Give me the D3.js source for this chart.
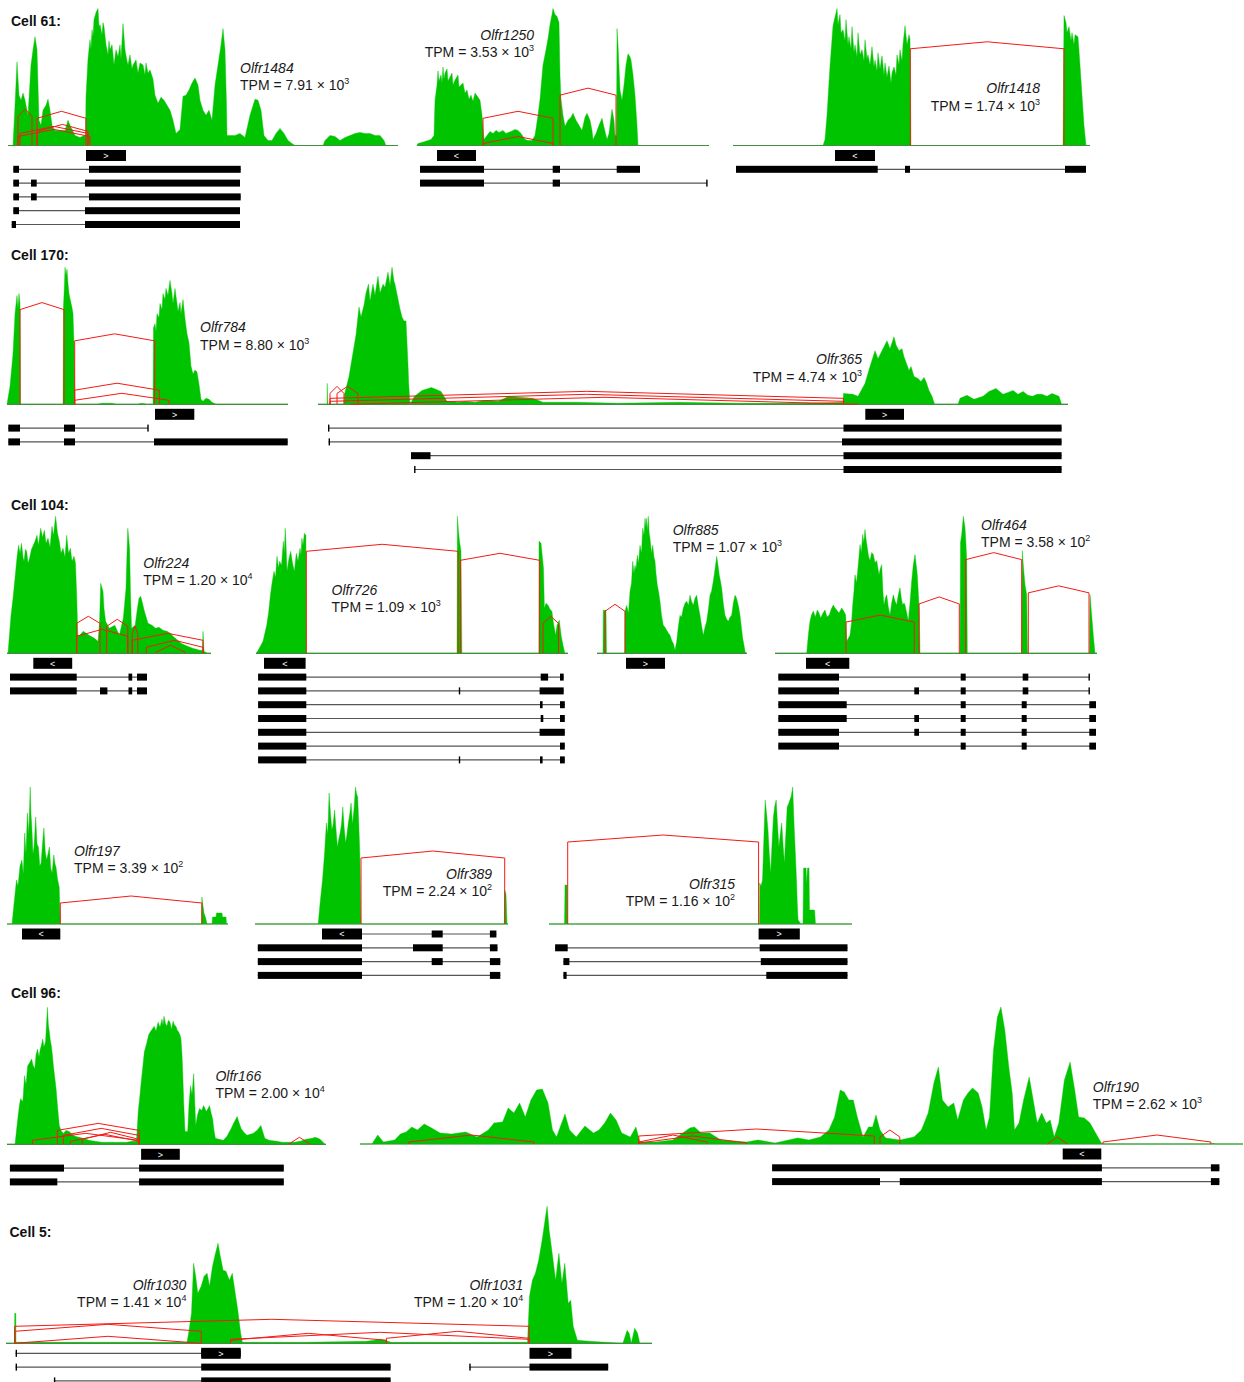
<!DOCTYPE html>
<html><head><meta charset="utf-8">
<script src="https://cdn.jsdelivr.net/npm/d3@7"></script>
<style>
html,body{margin:0;padding:0;background:#fff;}
svg{display:block;font-family:"Liberation Sans",Arial,Helvetica,sans-serif;}
</style></head><body>
<svg id="chart" width="1244" height="1382"></svg>
<script>
// ---------------- data ----------------
// Read coverage per locus: [position, depth] pairs (position = offset along the locus)
const cov_1484 = [[0,0],[5,0],[7,40],[9,83],[11,50],[13,45],[15,52],[17,45],[20,30],[23,80],[25,95],[27,108],[29,95],[31,25],[33,20],[35,35],[38,40],[40,46],[42,35],[44,20],[47,15],[52,15],[57,15],[60,25],[62,20],[67,10],[72,8],[76,10],[77.5,10],[78,49],[80,86],[82,105],[83,96],[84,115],[85,108],[86,125],[88,132],[90,136],[91,118],[92,120],[94,110],[95,122],[96,118],[98,100],[100,90],[101,104],[102,95],[104,100],[106,80],[108,95],[110,88],[112,100],[113,86],[115,121],[117,95],[119,84],[120,80],[122,90],[124,76],[125,80],[128,85],[130,72],[132,82],[135,80],[137,70],[138,82],[140,72],[142,75],[145,66],[147,50],[150,42],[153,48],[156,45],[159,40],[162,35],[165,25],[168,12],[172,16],[175,49],[178,50],[181,55],[184,62],[187,67],[190,60],[192,45],[195,35],[198,30],[201,35],[204,25],[207,60],[210,80],[213,100],[215,116],[217,95],[218.5,40],[219,10],[222,10],[227,10],[232,12],[237,8],[242,30],[247,46],[250,45],[253,35],[256,10],[260,5],[264,5],[268,12],[272,17],[276,12],[280,5],[284,2],[287,0],[315,0],[317,5],[322,10],[327,9],[332,5],[337,8],[342,10],[347,12],[352,13],[357,12],[362,12],[367,10],[372,10],[376,5],[378,0],[390,0]];
const cov_1250 = [[0,0],[1,2],[8,4],[14,6],[17,10],[18,45],[20,60],[21,74],[22,64],[24,70],[25,62],[26,78],[27,66],[28,72],[30,76],[31,64],[33,68],[35,72],[36,60],[38,65],[41,70],[42,58],[44,60],[46,62],[48,52],[50,55],[52,46],[54,50],[56,44],[58,52],[61,48],[63,45],[65,30],[67,6],[70,10],[73,14],[76,12],[79,15],[82,13],[86,15],[89,12],[94,14],[98,16],[101,15],[104,12],[108,6],[111,5],[115,5],[118,10],[121,30],[123,46],[126,80],[129,95],[131,106],[133,120],[135,130],[136,136],[138,130],[140,128],[142,122],[143,70],[144,46],[146,30],[148,19],[151,25],[154,28],[156,32],[159,25],[162,20],[165,15],[168,28],[170,32],[173,25],[175,15],[176,6],[179,12],[182,20],[185,27],[187,18],[190,6],[192,12],[195,36],[197,25],[198,10],[199.5,10],[200,116],[201,100],[203,55],[205,45],[207,60],[209,80],[211,91],[213,88],[214,85],[216,70],[218,50],[220,20],[221,0],[292,0]];
const cov_1418 = [[0,0],[90,0],[92,6],[94,30],[97,79],[100,119],[104,136],[105,120],[107,130],[108,112],[110,115],[112,104],[113,125],[115,100],[116,108],[118,96],[119,118],[121,92],[122,100],[124,88],[125,112],[127,90],[129,95],[131,84],[132,105],[134,86],[135,90],[137,80],[139,98],[141,78],[142,85],[144,74],[145,92],[147,76],[149,89],[151,70],[152,82],[154,68],[156,79],[158,62],[159,72],[161,78],[163,70],[164,90],[166,80],[167,95],[169,84],[170,100],[172,119],[174,100],[176,110],[177,106],[178,0],[330,0],[331,129],[333,122],[334,112],[336,118],[338,104],[339,112],[341,100],[342,110],[345,108],[347,80],[349,50],[351,20],[353,0],[357,0]];
const cov_784 = [[0,0],[3,18],[6,50],[8,90],[10,108],[11,95],[12,110],[13,100],[13.5,0],[56,0],[56.5,98],[57.5,120],[58,136],[59,128],[60,134],[61,120],[62,110],[63,105],[65,96],[66,90],[67,60],[68,0],[90,0],[95,1],[105,1],[110,0],[130,0],[135,1],[140,0],[146,0],[146.5,76],[148,80],[149,72],[150,90],[152,86],[153,100],[155,94],[156,110],[158,104],[159,115],[161,108],[163,123],[165,110],[166,100],[168,115],[170,100],[171,92],[173,101],[174,90],[176,104],[178,85],[180,70],[182,61],[184,38],[186,30],[188,34],[190,32],[192,20],[194,5],[196,3],[199,6],[202,5],[205,2],[209,0],[281,0]];
const cov_365 = [[0,0],[9,0],[9.2,21],[9.8,0],[26,0],[26.5,10],[31,28],[36,58],[38,70],[41,98],[43,88],[46,100],[48,112],[50.5,121],[52,104],[55,121],[57,110],[60,129],[62,112],[65,121],[67,118],[70,133],[72,120],[74,138],[76,124],[77,121],[79.6,108],[82,96],[84,88],[86,84],[88,84],[90,40],[90.7,21],[92,0],[96.5,8],[104,14],[113.5,17],[123,13],[129,3],[140,2],[147,3],[157,2],[167,4],[180,3],[191,8],[201,7],[215,6],[225,2],[260,2],[300,1],[360,2],[420,1],[480,1],[525,2],[525.5,11],[535,10],[540,8],[547,21],[552,38],[557,54],[560,46],[564,54],[566,58],[569,64],[572,56],[576,68],[578,60],[581,54],[584,56],[586,48],[591,34],[593,38],[596,28],[600,26],[603,23],[606,27],[608,23],[611,14],[614,8],[616.6,0],[640,0],[642,6],[649,9],[656,5],[665,8],[671,13],[678,16],[685,10],[690,12],[695,14],[700,10],[705,13],[710,9],[714.5,8],[719,10],[724,10],[729,8],[734,11],[741,8],[743.6,0],[750,0]];
const cov_224 = [[0,0],[1,0],[4,38],[6,55],[8,75],[10,96],[11.5,108],[13,100],[14.5,110],[16,96],[17,92],[18.5,104],[19.7,102],[21,90],[22.6,95],[24.5,104],[26.3,108],[28,112],[30,118],[31.5,108],[33.7,125],[35.5,116],[37.4,123],[39,110],[41,115],[43,106],[45,127],[46.5,118],[48.6,137],[50.5,120],[52.3,112],[54,100],[56,105],[58,96],[59.7,118],[61.5,100],[63.4,105],[65,92],[67,97],[68.5,90],[69.7,58],[70.8,18],[72.6,18],[76.3,22],[82,18],[87.4,15],[91,12],[92.5,30],[93.7,70],[96,62],[97,45],[98.6,32],[102.3,25],[107.8,28],[112.3,18],[116.3,35],[119,65],[120,100],[120.8,125],[122.6,105],[123.5,60],[124.5,25],[128.2,28],[130,42],[132,55],[133.7,57],[135.5,50],[137.4,42],[141,30],[145,28],[148.6,25],[152,26],[156,23],[160,22],[163.4,20],[167,16],[170.8,13],[174,10],[178.2,8],[185.6,5],[193,3],[195.5,3],[196,22],[197,2],[200.4,0],[204,0]];
const cov_726 = [[0,0],[0.3,0],[3.3,5],[7,12],[10.7,28],[12.5,40],[14.4,58],[16,70],[18,82],[19.5,76],[21,97],[22.5,85],[23.6,92],[25.5,88],[27.3,112],[28.3,100],[29.2,125],[30,110],[31,82],[33,95],[34.7,102],[36.5,90],[38.4,82],[40.3,100],[42,92],[44,105],[45,98],[45.9,115],[47,108],[48.4,120],[49.9,118],[50.3,0],[201,0],[201.4,137],[202.5,122],[203.5,112],[205,102],[205.9,0],[282.8,0],[283,112],[285,110],[286.5,95],[287.5,85],[288.4,45],[290,50],[292.1,48],[294,44],[295.9,42],[297.5,30],[299.6,18],[301,28],[303.3,33],[305.1,18],[307,8],[308.8,0],[312,0]];
const cov_885 = [[0,0],[6,0],[6.3,43],[9,43],[9.5,0],[27.8,0],[28,42],[29.7,48],[31.5,40],[33,62],[34.5,70],[35.7,92],[37,80],[38,88],[39,84],[40.3,98],[41.5,90],[43,108],[44.5,100],[45.7,125],[47,118],[48,135],[49,126],[49.7,135],[50.5,122],[51.3,137],[52.2,120],[53,115],[54.5,100],[55.7,108],[57,96],[58,92],[59,80],[60.3,68],[61.5,62],[63,52],[64.5,38],[66.3,28],[68,26],[69.7,23],[71.5,20],[73,18],[75,12],[76.3,10],[78,3],[79.7,12],[81.5,28],[83,38],[84.5,36],[86.3,45],[88,50],[89.7,52],[91.5,48],[93,58],[94.5,52],[96.3,48],[98,55],[99.7,58],[101.5,46],[103,38],[104.5,28],[106.3,18],[108,26],[109.7,32],[111.5,45],[113,58],[114.5,62],[116.3,72],[118,84],[119.7,97],[121,88],[122.3,78],[123.5,72],[124.7,65],[126.3,50],[128,38],[129.7,34],[131.3,32],[133,36],[134.7,38],[136.3,50],[138,58],[139.2,56],[140.3,52],[141.7,46],[143,38],[144.5,25],[145.7,15],[147,8],[148,2],[149,0],[150,0]];
const cov_464 = [[0,0],[31.7,0],[33.3,18],[35,32],[36.5,38],[38.3,42],[40.3,36],[42.3,43],[44,40],[45.7,35],[48,40],[50,43],[52,36],[54.3,38],[56.3,44],[58.3,48],[60,45],[61.7,43],[64,40],[66.7,45],[68.7,42],[70.7,38],[71.7,12],[75,18],[76.5,30],[77.7,48],[79,62],[80,78],[81.5,70],[82.7,82],[84,96],[85,108],[86.3,100],[87.7,118],[88.8,110],[90,123],[91.2,112],[92.3,105],[93.6,96],[95,92],[96.7,100],[98.3,98],[100,90],[101.7,92],[103,84],[104,78],[105.3,84],[106.7,88],[108,60],[109,48],[110.4,55],[111.7,58],[113.3,46],[115,38],[116.7,50],[118.3,58],[120,52],[121.7,48],[123.3,58],[125,65],[126.3,55],[127.7,48],[129,50],[130,48],[131.7,40],[133.3,32],[135,50],[136.7,72],[138.3,88],[140,98],[141.2,88],[142.3,78],[143.3,60],[144.3,42],[145,0],[185,0],[185.5,110],[186.7,118],[188.3,136],[189.2,130],[190,125],[191,108],[191.7,92],[192.3,0],[246.5,0],[247.3,102],[248.5,85],[250,68],[251.7,58],[252.5,0],[314.5,0],[315,58],[316.5,40],[318.3,18],[320,0],[322,0]];
const cov_197 = [[0,0],[5,0],[7,20],[9.5,44],[11,38],[13,58],[14.9,64],[16.3,50],[17.7,91],[19,70],[20.4,111],[21.8,90],[23.2,137],[24,110],[24.8,97],[26,70],[27,77],[27.8,90],[28.7,107],[30,80],[31.4,77],[32.8,58],[34.1,61],[35.5,80],[36.9,96],[38.3,72],[39.6,64],[41,70],[42.4,77],[43.7,56],[45.1,51],[46.8,69],[48,60],[49,57],[50.5,45],[52.2,37],[53.3,0],[194.5,0],[194.9,27],[196,18],[197,11],[198.7,6],[200,0],[205,0],[205.5,7],[209,7],[209.5,11],[215,11],[215.5,7],[219,7],[219.5,0],[221,0]];
const cov_389 = [[0,0],[63.2,0],[65,20],[67.5,44],[69.5,70],[71.4,101],[72.8,90],[74.1,131],[75.5,110],[76.9,94],[78.2,100],[79.6,114],[81,95],[82.4,77],[83.8,85],[85.1,91],[86.5,100],[87.8,117],[89.2,96],[90.6,81],[92,90],[93.3,101],[94.7,110],[96.1,121],[97.5,100],[99,115],[100.5,137],[101.6,130],[102.7,127],[103.8,100],[104.8,71],[106,0],[249.3,0],[249.7,34],[251,30],[252,0],[253,0]];
const cov_315 = [[0,0],[15.5,0],[16,39],[18,39],[18.5,0],[210.5,0],[210.7,41],[212,38],[213.5,44],[215,90],[216.2,124],[217.6,110],[219,94],[220.3,70],[221.7,51],[223,80],[224.4,107],[225.8,118],[227.2,124],[228.5,100],[229.9,77],[231.3,90],[232.7,101],[234,80],[235.4,61],[236.8,90],[238.2,117],[239.5,120],[240.9,124],[242.3,128],[243.7,137],[244.5,115],[245.3,94],[246.4,70],[247.5,44],[248.3,20],[249.1,4],[252,0],[254,0],[254.6,56],[257,56],[257.5,40],[258.5,56],[260,56],[260.5,14],[265.6,14],[266.5,0],[303,0]];
const cov_166 = [[0,0],[8,0],[10.8,26],[12.5,40],[13.6,46],[15.9,43],[17.5,69],[19,60],[20.7,79],[22.5,82],[24.6,86],[26,80],[27.8,76],[29,90],[30.5,96],[32,88],[33.3,96],[34.5,100],[35.7,106],[37,98],[38.5,103],[39.5,120],[40.4,138],[41.4,120],[42.4,113],[43.4,104],[44.4,99],[45.4,90],[46.4,79],[47.7,68],[49.1,56],[50.7,36],[52.3,19],[54,14],[56.2,11],[59,14],[62.2,13],[65,10],[68.1,8],[72,7],[76,6],[82,4],[87.9,3],[95,2],[103.7,2],[111,2],[119.5,2],[125,3],[129.4,3],[130.5,20],[131.3,34],[133,50],[134.5,66],[136,80],[137.3,93],[138.7,98],[140,103],[141.6,110],[143.2,113],[145.2,116],[147.2,119],[149,114],[151.1,123],[153,118],[155,126],[156,120],[157,129],[158.4,122],[159.8,119],[161.4,125],[163,123],[164.5,116],[166.1,124],[167.5,120],[168.9,119],[170.3,115],[171.7,113],[173,110],[174,106],[175,90],[175.6,76],[176.8,40],[178,13],[180.7,13],[182,40],[183.5,59],[185,50],[186.7,71],[187.7,45],[188.7,19],[190.6,30],[192.6,36],[194.6,34],[196.6,39],[198,36],[199.3,33],[201,36],[202.5,39],[204,32],[205.6,26],[207,14],[208.4,6],[212,5],[216.3,4],[220,8],[222,12],[224.2,16],[227,22],[230.2,28],[232,22],[234.1,16],[237,12],[240,9],[243,10],[246,11],[250,14],[253.9,19],[256,12],[257.8,6],[262,4],[269.7,3],[275,2],[281.5,2],[287,2],[293.4,3],[299,5],[305.3,6],[308,7],[311.2,6],[313,5],[315.1,3],[317.9,0],[319,0]];
const cov_190 = [[0,0],[12,0],[17.7,9],[23.4,2],[34.7,4],[40.4,10],[46.1,12],[51.8,17],[57.4,14],[64.2,20],[71.6,16],[80.1,11],[91.5,10],[105.7,12],[117,7],[128.4,14],[134,21],[142.6,22],[148.2,36],[153.9,31],[159.6,41],[165.3,27],[170.9,44],[176.6,54],[182.3,55],[188,41],[192.5,14],[196.5,7],[205,30],[209.5,14],[216.3,7],[224.9,18],[233.4,11],[239,14],[244.7,21],[250.4,31],[256.1,24],[261.7,11],[270.3,7],[275.9,17],[279.9,2],[295.8,2],[312.8,4],[329.8,16],[334.4,17],[341.2,11],[349.7,11],[361,4],[386.6,2],[398,4],[415,1],[437.7,6],[449,4],[460.4,7],[468.9,14],[474.6,27],[480.2,54],[484.2,52],[488.8,44],[493.3,44],[497.3,27],[503,7],[508.6,17],[512.6,17],[516,29],[520,14],[525.6,6],[539.8,4],[554,7],[561.4,14],[568.2,31],[573.9,61],[578.4,77],[582.4,44],[588.1,37],[593.8,41],[597.7,24],[603.4,44],[608,51],[612.5,56],[618.2,51],[622.1,37],[626.1,14],[629.5,27],[633.5,94],[637.4,127],[640.9,137],[644.8,114],[648.8,77],[652.2,51],[654.5,14],[659,21],[663.6,44],[669.2,67],[673.2,44],[677.2,21],[681.7,31],[686.3,21],[690.2,24],[694.2,7],[698.8,21],[704.4,64],[710.1,82],[714.7,54],[718.6,27],[724.3,26],[730,21],[735.6,11],[741.3,1],[743,0],[852,0],[853,1],[855,0],[883,0]];
const cov_cell5 = [[0,0],[8.5,0],[8.7,30],[9.8,30],[10,1],[50,1],[100,1],[150,1],[181,1],[182.6,10],[185.5,30],[187.6,80],[189.7,67],[191.8,50],[195.2,57],[198.1,67],[201.1,70],[203.6,57],[206.5,77],[209.5,90],[212,100],[214.1,88],[217.1,73],[220,72],[223.4,63],[226.3,70],[228.8,53],[231.8,33],[234.7,10],[236.4,1],[300,1],[360,2],[368.6,3],[374,4],[379.1,3],[385,1],[450,1],[521.5,1],[522.2,17],[523.5,47],[526.4,63],[529.4,70],[532.7,83],[536.1,103],[539,123],[541.1,137],[543.2,113],[546.2,90],[549.6,63],[552.9,90],[555.9,60],[558.8,80],[562.2,40],[564.7,43],[567.2,17],[571.4,3],[583.2,2],[600,1],[616.9,0],[621.1,13],[623.2,10],[625.3,0],[628.7,15],[631.6,10],[633.7,0],[646,0]];

// Splice junctions: [donor, acceptor, junction depth]
const jn_1484 = [[10,24,29],[29,78,27],[10,82,9],[12,80,12],[29,80,14]];
const jn_1250 = [[66,136,27],[66,136,2],[143,199,50]];
const jn_1418 = [[177.3,331,96]];
const jn_784 = [[13,57,94],[67.7,147.7,63],[67.7,152.3,14],[67.7,162,4]];
const jn_365 = [[12,26,11],[19,40,11],[12,525.5,3],[12,525.5,6],[32,540,0]];
const jn_224 = [[69.7,93,30],[69.7,120.8,17],[99.7,120.8,27],[125.2,130.8,20],[125.2,196,13],[139.3,196,6],[148.6,178.2,1]];
const jn_726 = [[50.3,202.1,102],[204.4,283.6,93],[287,302.5,30]];
const jn_885 = [[8,28,42]];
const jn_464 = [[71,139.3,31],[144,184.3,49],[190.7,246.7,93],[253.3,314,60]];
const jn_197 = [[53.3,194.9,21]];
const jn_389 = [[106,249.7,66]];
const jn_315 = [[18.7,209.6,82]];
const jn_166 = [[50.3,132.1,14],[25.4,132.1,4],[56.2,132.1,9],[63.4,132.1,3],[75.2,132.1,5],[281.5,303.3,0]];
const jn_190 = [[48.9,173.8,2],[278.8,514.3,8],[278.8,386.6,1],[278.8,346.9,2],[520,539.8,7],[687.4,707.3,0],[743,850.9,2]];
const jn_cell5 = [[8.7,523,17],[8.7,195.2,12],[8.7,195.2,0],[224.6,523,4],[224.6,380.4,3],[380.4,523,5]];

// Annotated transcripts: [row, [[exonStart, exonEnd], ...]]
const tx_1484 = [[1,[[5.3,11],[81,232.7]]],[2,[[5.3,11],[23,28.7],[77,232]]],[3,[[5.3,11],[23,28.7],[81,232.7]]],[4,[[5.3,11],[77,232]]],[5,[[3.7,8],[77,232]]]];
const tx_1250 = [[1,[[3,67],[135.7,143],[199.7,223]]],[2,[[3,67],[135.7,143],[289.2,289.8]]]];
const tx_1418 = [[1,[[3,144.7],[172,177],[332,353]]]];
const tx_784 = [[1,[[1.3,13],[57,68],[140.3,141]]],[2,[[1.3,13],[57,68],[147,280.7]]]];
const tx_365 = [[1,[[10,10.8],[525.5,743.6]]],[2,[[10.6,11.4],[524,743.6]]],[3,[[93,112.5],[525.5,743.6]]],[4,[[96.1,96.9],[525.5,743.6]]]];
const tx_224 = [[1,[[3,69.7],[121.5,125.2],[130,140]]],[2,[[3,69.7],[93,100.4],[121.5,125.2],[130,140]]]];
const tx_726 = [[1,[[2.1,50.3],[284.7,292.1],[304,307.7]]],[2,[[2.1,50.3],[202.8,203.8],[283.6,307.7]]],[3,[[2.1,50.3],[284,286.6],[304,308.8]]],[4,[[2.1,50.3],[284.7,287.3],[304,308.8]]],[5,[[2.1,50.3],[283.6,308.8]]],[6,[[2.1,50.3],[304,308.8]]],[7,[[2.1,50.3],[202.8,203.8],[284,286.6],[304,308.8]]]];
const tx_885 = [];
const tx_464 = [[1,[[3.3,64],[185.7,190.7],[247.7,253.3],[313.5,314.5]]],[2,[[3.3,64],[139.3,144],[185.7,190.7],[247.7,253.3],[313.5,314.5]]],[3,[[3.3,71.7],[185.7,190.7],[246.7,251.7],[314.3,321]]],[4,[[3.3,71.7],[139.3,144],[185.7,190.7],[246.7,251.7],[314.3,321]]],[5,[[3.3,64],[139.3,144],[185.7,190.7],[246.7,251.7],[314.3,321]]],[6,[[3.3,64],[185.7,190.7],[246.7,251.7],[314.3,321]]]];
const tx_197 = [];
const tx_389 = [[0,[[68.6,107],[176.7,187.7],[234.9,241.4]]],[1,[[2.8,107],[158,187.7],[234.9,242.5]]],[2,[[2.8,107],[176.7,187.7],[234.9,245.3]]],[3,[[2.8,107],[234.9,245.3]]]];
const tx_315 = [[1,[[6.1,18.7],[210.7,298.5]]],[2,[[14.4,20.4],[211.8,298.5]]],[3,[[14.4,17.6],[217.3,298.5]]]];
const tx_166 = [[1,[[2.9,57],[132.1,276.8]]],[2,[[2.9,50.3],[132.1,276.8]]]];
const tx_190 = [[1,[[412.1,741.9],[850.9,859.4]]],[2,[[412.1,520],[539.8,741.9],[850.9,859.4]]]];
const tx_1030 = [[0,[[9.6,10.4],[195.2,234.7]]],[1,[[9.6,10.4],[195.2,384.6]]],[2,[[47.9,48.7],[195.2,384.6]]]];
const tx_1031 = [[1,[[463.3,464.1],[523.5,602.2]]]];

// Genes
const geneNames   = ["Olfr1484","Olfr1250","Olfr1418","Olfr784","Olfr365","Olfr224","Olfr726","Olfr885","Olfr464","Olfr197","Olfr389","Olfr315","Olfr166","Olfr190","Olfr1030","Olfr1031"];
const tpmMantissa = ["7.91","3.53","1.74","8.80","4.74","1.20","1.09","1.07","3.58","3.39","2.24","1.16","2.00","2.62","1.41","1.20"];
const tpmExponent = [3,3,3,3,3,4,3,3,2,2,2,2,4,3,4,4];
const geneStrand  = ["+","-","-","+","+","-","-","+","-","-","-","+","+","-","+","+"];
const strandSpan  = [[78,118],[20,59],[102,142],[148,187.3],[547.3,586],[26.3,65.2],[8,49.6],[29,68],[31,74.3],[15,53.3],[67,107],[209.6,250.8],[134.1,172.8],[702.7,741.3],[195.2,234.7],[523.5,565.5]];
const geneTranscripts = [tx_1484,tx_1250,tx_1418,tx_784,tx_365,tx_224,tx_726,tx_885,tx_464,tx_197,tx_389,tx_315,tx_166,tx_190,tx_1030,tx_1031];
const geneTrack = [0,1,2,3,4,5,6,7,8,9,10,11,12,13,14,14];

// Tracks (one coverage lane each)
const trackCoverage  = [cov_1484,cov_1250,cov_1418,cov_784,cov_365,cov_224,cov_726,cov_885,cov_464,cov_197,cov_389,cov_315,cov_166,cov_190,cov_cell5];
const trackJunctions = [jn_1484,jn_1250,jn_1418,jn_784,jn_365,jn_224,jn_726,jn_885,jn_464,jn_197,jn_389,jn_315,jn_166,jn_190,jn_cell5];

const cellLabels = ["Cell 61:","Cell 170:","Cell 104:","Cell 96:","Cell 5:"];

// ---------------- layout ----------------
// track frame: [left, right, baseline]
const trackFrame = [[8,398,145.5],[417,709,145.5],[733,1090,145.5],[7,288,404.3],[318,1068,404.3],[7,211,653.3],[256,568,653.3],[597,747,653.3],[775,1097,653.3],[7,228,924],[255,508,924],[549,852,924],[7,326,1144.3],[360,1243,1144],[6,652,1343.3]];
// gene label: [x, nameBaseline, tpmBaseline, anchor]
const labelPos = [[240,73,90,"start"],[534,40,57,"end"],[1040,93,110.5,"end"],[200,332.3,349.5,"start"],[862,364.3,381.5,"end"],[143.3,567.7,584.5,"start"],[331.5,595,612,"start"],[672.7,535,551.5,"start"],[981,530,547,"start"],[74,855.5,872.5,"start"],[492,878.5,895.5,"end"],[735,889,906,"end"],[215.4,1081,1098,"start"],[1092.8,1091.7,1109,"start"],[186.4,1290,1307,"end"],[523.2,1290,1307,"end"]];
const cellPos = [[11,26],[11,259.5],[11,509.5],[11,998],[9.5,1237]];

const PEAK_PX = 137, ROOF = 7, ROW0 = 10, ROW_STEP = 13.8, EXON_H = 7;

const svg = d3.select("#chart");
svg.append("rect").attr("width",1244).attr("height",1382).attr("fill","#fff");

const scales = trackFrame.map((f, i) => {
  const cov = trackCoverage[i];
  const x = d3.scaleLinear().domain(d3.extent(cov, d => d[0])).range([f[0], f[1]]);
  const y = d3.scaleLinear().domain([0, d3.max(cov, d => d[1])]).range([f[2], f[2] - PEAK_PX]);
  return {x, y, base: f[2]};
});

// coverage lanes
trackCoverage.forEach((cov, i) => {
  const {x, y, base} = scales[i];
  const g = svg.append("g").attr("class", "track");
  g.append("path")
    .datum(cov)
    .attr("d", d3.area().x(d => x(d[0])).y0(base).y1(d => y(d[1])))
    .attr("fill", "#00c400")
    .attr("stroke", "#00c400")
    .attr("stroke-width", 0.4);
  g.append("line")
    .attr("x1", x.range()[0]).attr("x2", x.range()[1])
    .attr("y1", base).attr("y2", base)
    .attr("stroke", "#3f8f3f").attr("stroke-width", 1.2);
  // junction arcs
  g.selectAll("path.jn").data(trackJunctions[i]).join("path")
    .attr("class", "jn")
    .attr("d", d => {
      const a = x(d[0]), b = x(d[1]), h = y(d[2]);
      return `M${a},${base}L${a},${h}L${(a + b) / 2},${h - ROOF}L${b},${h}L${b},${base}`;
    })
    .attr("fill", "none")
    .attr("stroke", "#f41a14")
    .attr("stroke-width", 1)
    .attr("stroke-linejoin", "miter");
});

// transcript models, strand markers, labels
geneNames.forEach((name, gi) => {
  const {x, base} = scales[geneTrack[gi]];
  const g = svg.append("g").attr("class", "gene");
  geneTranscripts[gi].forEach(([row, exons]) => {
    const yc = base + ROW0 + row * ROW_STEP;
    g.append("line")
      .attr("x1", x(exons[0][0])).attr("x2", x(exons[exons.length - 1][1]))
      .attr("y1", yc).attr("y2", yc)
      .attr("stroke", "#555").attr("stroke-width", 1.2);
    g.selectAll(null).data(exons).join("rect")
      .attr("x", d => x(d[0]))
      .attr("width", d => Math.max(1.4, x(d[1]) - x(d[0])))
      .attr("y", yc - EXON_H / 2).attr("height", EXON_H)
      .attr("fill", "#000");
  });
  const s = strandSpan[gi];
  const yc = base + ROW0;
  g.append("rect")
    .attr("x", x(s[0])).attr("width", x(s[1]) - x(s[0]))
    .attr("y", yc - 5.5).attr("height", 11)
    .attr("fill", "#000");
  g.append("text")
    .attr("x", (x(s[0]) + x(s[1])) / 2).attr("y", yc + 3.2)
    .attr("text-anchor", "middle")
    .attr("font-size", 9).attr("fill", "#fff")
    .text(geneStrand[gi] === "+" ? ">" : "<");

  const [lx, ny, ty, anchor] = labelPos[gi];
  g.append("text")
    .attr("x", lx).attr("y", ny).attr("text-anchor", anchor)
    .attr("font-size", 14).attr("font-style", "italic").attr("fill", "#1a1a1a")
    .text(name);
  const t = g.append("text")
    .attr("x", lx).attr("y", ty).attr("text-anchor", anchor)
    .attr("font-size", 14).attr("fill", "#1a1a1a");
  t.append("tspan").text(`TPM = ${tpmMantissa[gi]} \u00d7 10`);
  t.append("tspan").attr("font-size", 9).attr("dy", -6).text(tpmExponent[gi]);
});

// cell headings
svg.selectAll("text.cell").data(cellLabels).join("text")
  .attr("class", "cell")
  .attr("x", (d, i) => cellPos[i][0]).attr("y", (d, i) => cellPos[i][1])
  .attr("font-size", 14).attr("font-weight", "bold").attr("fill", "#111")
  .text(d => d);
</script>
</body></html>
